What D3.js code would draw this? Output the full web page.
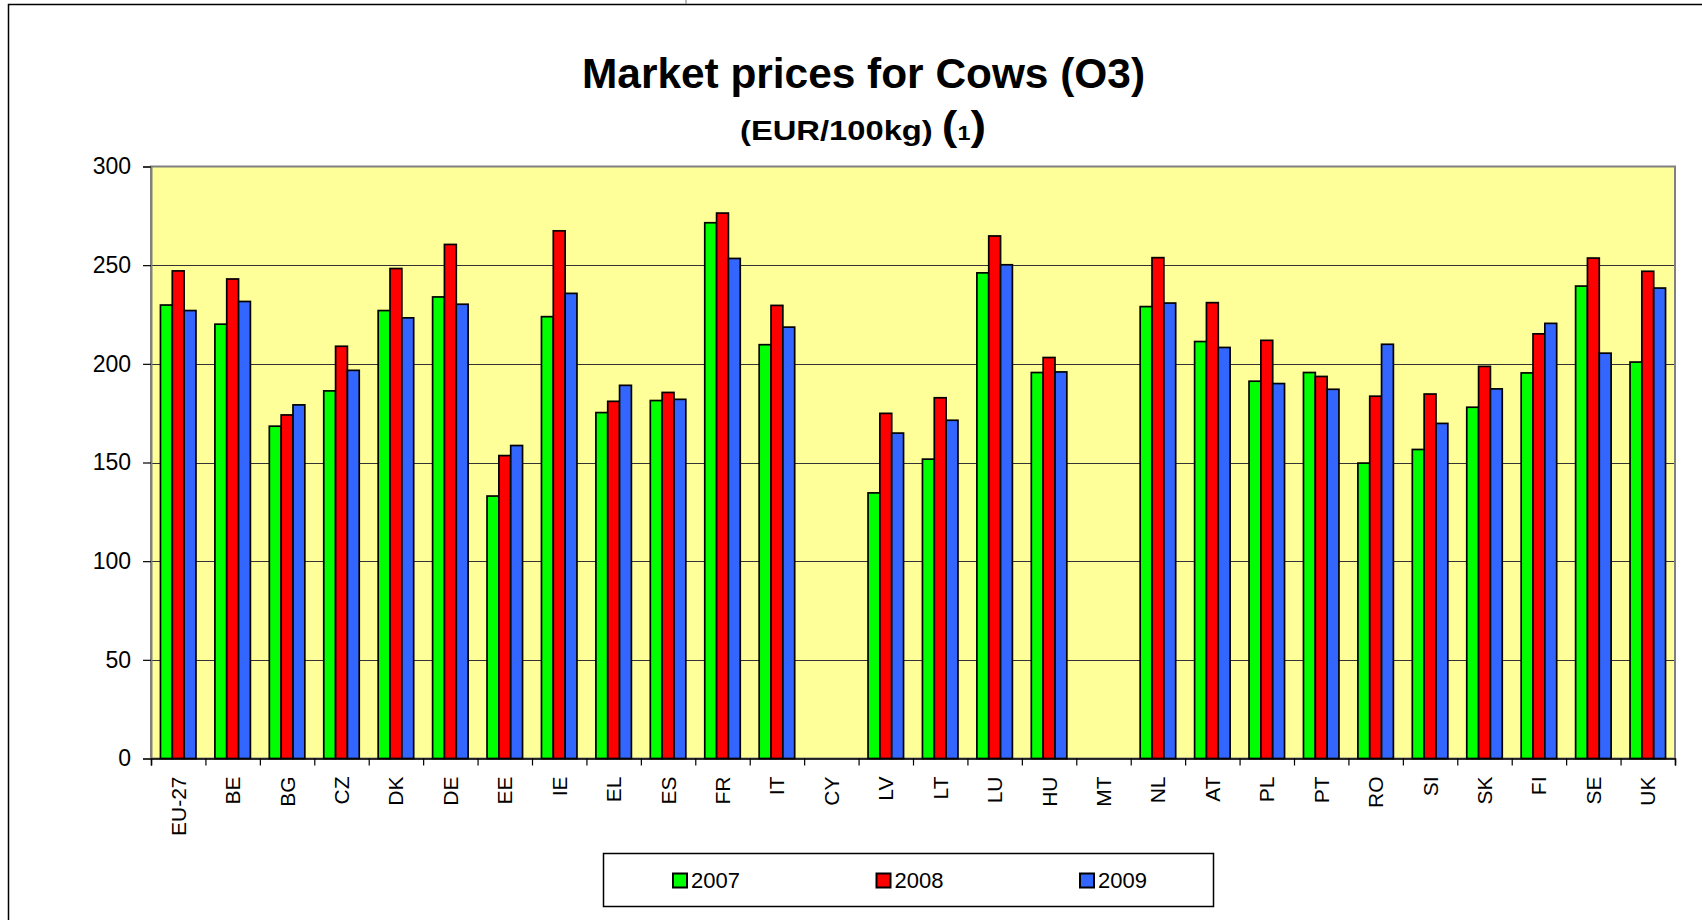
<!DOCTYPE html>
<html>
<head>
<meta charset="utf-8">
<script src="https://cdn.jsdelivr.net/npm/d3@7"></script>
<style>
  html, body { margin: 0; padding: 0; background: #fff; }
  svg { display: block; font-family: "Liberation Sans", Arial, sans-serif; }
</style>
</head>
<body>
<svg id="chart" width="1702" height="920"></svg>
<script>
// Member-state codes along the x axis
const categories = ["EU-27","BE","BG","CZ","DK","DE","EE","IE","EL","ES","FR","IT","CY","LV","LT","LU","HU","MT","NL","AT","PL","PT","RO","SI","SK","FI","SE","UK"];
const years = ["2007","2008","2009"];
// Cow (O3) market prices, EUR/100kg; null = no quotation
const prices2007 = [229.8,220.1,168.4,186.3,227.0,233.9,133.0,223.9,175.3,181.4,271.5,209.7,null,134.6,151.7,246.1,195.6,null,229.0,211.3,191.2,195.6,149.7,156.6,178.0,195.4,239.4,200.9];
const prices2008 = [247.1,243.0,174.1,208.9,248.3,260.5,153.5,267.4,181.0,185.5,276.4,229.6,null,174.9,182.8,264.8,203.2,null,253.8,231.0,211.9,193.6,183.6,184.7,198.7,215.2,253.6,246.9];
const prices2009 = [227.0,231.6,179.2,196.7,223.3,230.2,158.6,235.7,189.1,182.0,253.4,218.6,null,164.9,171.4,250.2,195.9,null,230.8,208.3,190.0,187.1,209.9,169.8,187.3,220.5,205.4,238.4];
const yTicks = [0,50,100,150,200,250,300];
const colors = ["#00FF00","#FF0000","#3366FF"];

const series = [prices2007, prices2008, prices2009];

const svg = d3.select("#chart");
const plot = { left: 151, right: 1675, top: 166.5, bottom: 758.5 };

const x = d3.scaleBand().domain(categories).range([plot.left, plot.right]).paddingInner(0).paddingOuter(0);
const band = x.bandwidth();
const barW = band / 4.6;
const xInner = d3.scaleBand().domain(years).range([0, barW * 3]);
const groupOffset = (band - barW * 3) / 2;
const y = d3.scaleLinear().domain([0, 300]).range([plot.bottom, plot.top]);

// outer chart frame (left and top edges visible)
svg.append("rect")
  .attr("x", 8.5).attr("y", 4.5).attr("width", 1720).attr("height", 940)
  .attr("fill", "none").attr("stroke", "#000").attr("stroke-width", 1.5);
svg.append("line").attr("x1", 686).attr("x2", 686).attr("y1", 0).attr("y2", 4)
  .attr("stroke", "#777").attr("stroke-width", 1);

// titles
svg.append("text")
  .attr("x", 582).attr("y", 88)
  .attr("textLength", 563).attr("lengthAdjust", "spacingAndGlyphs")
  .attr("font-size", 42).attr("font-weight", "bold").attr("fill", "#000")
  .text("Market prices for Cows (O3)");

const sub = svg.append("text")
  .attr("x", 740).attr("y", 140)
  .attr("textLength", 246).attr("lengthAdjust", "spacingAndGlyphs")
  .attr("font-weight", "bold").attr("fill", "#000");
sub.append("tspan").attr("font-size", 28).text("(EUR/100kg) ");
sub.append("tspan").attr("font-size", 40).text("(");
sub.append("tspan").attr("font-size", 20).text("1");
sub.append("tspan").attr("font-size", 40).text(")");

// plot area
svg.append("rect")
  .attr("x", plot.left).attr("y", plot.top)
  .attr("width", plot.right - plot.left).attr("height", plot.bottom - plot.top)
  .attr("fill", "#FFFF99");

// horizontal gridlines
svg.append("g").selectAll("line")
  .data(yTicks.filter(v => v > 0 && v < 300))
  .join("line")
  .attr("x1", plot.left).attr("x2", plot.right)
  .attr("y1", d => Math.round(y(d)) + 0.5).attr("y2", d => Math.round(y(d)) + 0.5)
  .attr("stroke", "#333").attr("stroke-width", 1);

// plot border
svg.append("rect")
  .attr("x", plot.left).attr("y", plot.top)
  .attr("width", plot.right - plot.left).attr("height", plot.bottom - plot.top)
  .attr("fill", "none").attr("stroke", "#808080").attr("stroke-width", 2);

// bars
const groups = svg.append("g").selectAll("g")
  .data(categories)
  .join("g")
  .attr("transform", d => `translate(${x(d) + groupOffset},0)`);

groups.selectAll("rect")
  .data((d, i) => years.map((yr, k) => ({ yr, k, v: series[k][i] })).filter(e => e.v !== null))
  .join("rect")
  .attr("x", e => xInner(e.yr))
  .attr("y", e => y(e.v))
  .attr("width", barW)
  .attr("height", e => y(0) - y(e.v))
  .attr("fill", e => colors[e.k])
  .attr("stroke", "#000").attr("stroke-width", 1.7);

// y axis
const yAxis = svg.append("g")
  .attr("transform", `translate(${plot.left},0)`)
  .call(d3.axisLeft(y).tickValues(yTicks).tickSize(8).tickPadding(12).tickFormat(d3.format("d")));
yAxis.select(".domain").attr("stroke", "#808080").attr("stroke-width", 2);
yAxis.selectAll(".tick line").attr("stroke", "#000").attr("stroke-width", 1.2);
yAxis.selectAll("text").attr("font-size", 23).attr("fill", "#000")
  .attr("font-family", "'Liberation Sans', Arial, sans-serif");

// x axis: boundary ticks
const xEdges = d3.scaleLinear().domain([0, categories.length]).range([plot.left, plot.right]);
const xTickAxis = svg.append("g")
  .attr("transform", `translate(0,${plot.bottom})`)
  .call(d3.axisBottom(xEdges).tickValues(d3.range(0, categories.length + 1)).tickSize(7).tickFormat(""));
xTickAxis.select(".domain").attr("stroke", "#000").attr("stroke-width", 1.5);
xTickAxis.selectAll(".tick line").attr("stroke", "#000").attr("stroke-width", 1.2);

// x axis: category labels, rotated
const xLabelAxis = svg.append("g")
  .attr("transform", `translate(0,${plot.bottom})`)
  .call(d3.axisBottom(x).tickSize(0));
xLabelAxis.select(".domain").remove();
xLabelAxis.selectAll("text")
  .attr("transform", "rotate(-90)")
  .attr("x", -18).attr("y", 0).attr("dy", "0.36em")
  .attr("text-anchor", "end")
  .attr("font-size", 21).attr("fill", "#000")
  .attr("font-family", "'Liberation Sans', Arial, sans-serif");

// legend
svg.append("rect")
  .attr("x", 603.5).attr("y", 853.5).attr("width", 610).attr("height", 53)
  .attr("fill", "#fff").attr("stroke", "#000").attr("stroke-width", 1.5);
const legend = svg.append("g").selectAll("g")
  .data(years)
  .join("g")
  .attr("transform", (d, i) => `translate(${673 + i * 203.5},873.5)`);
legend.append("rect")
  .attr("width", 14).attr("height", 14)
  .attr("fill", (d, i) => colors[i])
  .attr("stroke", "#000").attr("stroke-width", 2);
legend.append("text")
  .attr("x", 18).attr("y", 14.5)
  .attr("font-size", 22).attr("fill", "#000")
  .text(d => d);
</script>
</body>
</html>
